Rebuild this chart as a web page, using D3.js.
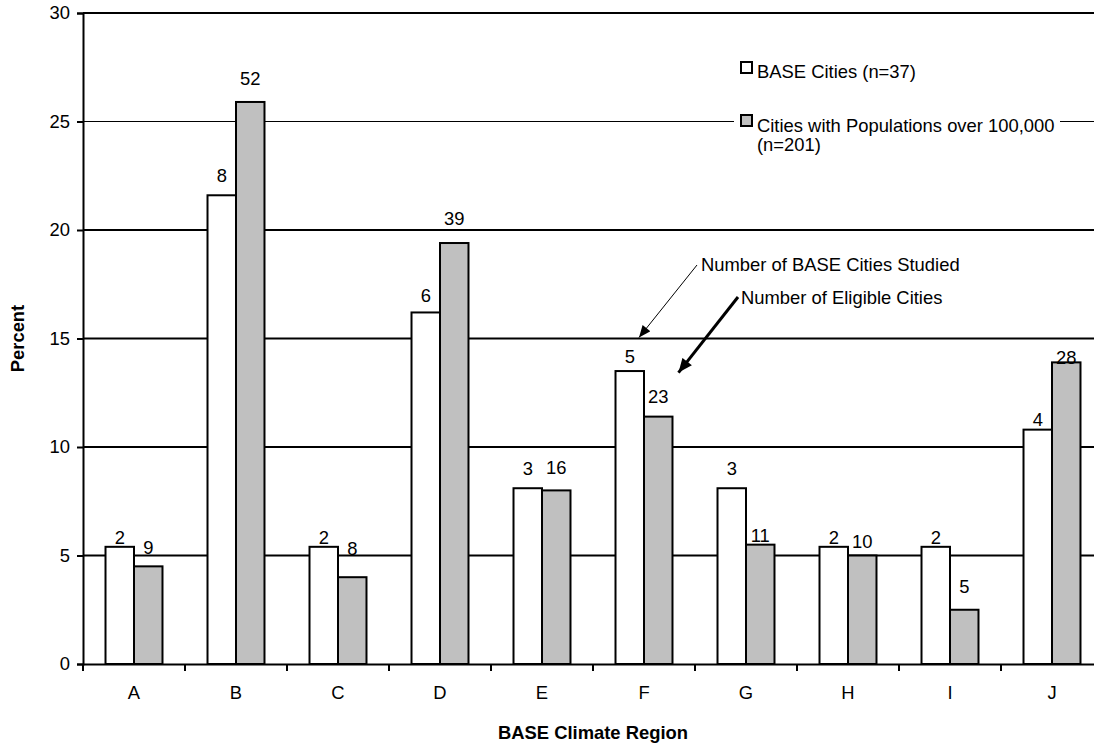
<!DOCTYPE html>
<html>
<head>
<meta charset="utf-8">
<script src="https://cdn.jsdelivr.net/npm/d3@7"></script>
<style>
  body { margin: 0; background: white; }
  svg { display: block; font-family: "Liberation Sans", Arial, sans-serif; }
</style>
</head>
<body>
<script>
const regions = ["A", "B", "C", "D", "E", "F", "G", "H", "I", "J"];
// percent of each group in each climate region
const basePct = [5.4, 21.6, 5.4, 16.2, 8.1, 13.5, 8.1, 5.4, 5.4, 10.8];
const eligiblePct = [4.5, 25.9, 4.0, 19.4, 8.0, 11.4, 5.5, 5.0, 2.5, 13.9];
// city counts printed above the bars
const baseCount = [2, 8, 2, 6, 3, 5, 3, 2, 2, 4];
const eligibleCount = [9, 52, 8, 39, 16, 23, 11, 10, 5, 28];
const yTicks = [0, 5, 10, 15, 20, 25, 30];
const seriesNames = ["BASE Cities (n=37)", "Cities with Populations over 100,000"];

// the count labels were hand-placed in the original, px above the bar top
const labelGapBase = [3, 13, 3, 10, 13, 8, 13, 3, 3, 4];
const labelGapElig = [12, 17, 22, 18, 16, 14, 3, 8, 17, -2];

const width = 1094;
const height = 744;
const marginTop = 13;
const marginLeft = 83;
const plotBottom = 664;
const plotRight = 1103; // plot runs past the picture edge and is clipped
const fontSize = 18.4;

const svg = d3.select("body")
  .append("svg")
  .attr("width", width)
  .attr("height", height);

svg.append("rect").attr("width", "100%").attr("height", "100%").attr("fill", "white");

const defs = svg.append("defs");
defs.append("marker")
  .attr("id", "headThin")
  .attr("viewBox", "0 0 12 10")
  .attr("refX", 12).attr("refY", 5)
  .attr("markerUnits", "userSpaceOnUse")
  .attr("markerWidth", 13).attr("markerHeight", 10)
  .attr("orient", "auto")
  .append("path").attr("d", "M0,0L12,5L0,10Z").attr("fill", "black");
defs.append("marker")
  .attr("id", "headThick")
  .attr("viewBox", "0 0 14 12")
  .attr("refX", 14).attr("refY", 6)
  .attr("markerUnits", "userSpaceOnUse")
  .attr("markerWidth", 15).attr("markerHeight", 12)
  .attr("orient", "auto")
  .append("path").attr("d", "M0,0L14,6L0,12Z").attr("fill", "black");

const x = d3.scaleBand().domain(regions).range([marginLeft, plotRight]);
const xSub = d3.scaleBand().domain(["base", "elig"]).range([0, x.bandwidth()]).paddingOuter(0.79);
const y = d3.scaleLinear().domain([0, 30]).range([plotBottom, marginTop]);

// gridlines (25 is drawn thin in the original)
svg.append("g")
  .selectAll("line")
  .data(yTicks.filter(d => d > 0))
  .join("line")
  .attr("x1", marginLeft).attr("x2", plotRight)
  .attr("y1", d => y(d)).attr("y2", d => y(d))
  .attr("stroke", "black")
  .attr("stroke-width", d => d === 25 ? 1 : 2);

// legend box covers the gridline behind it
svg.append("rect")
  .attr("x", 734).attr("y", 52)
  .attr("width", 326).attr("height", 108)
  .attr("fill", "white");

const rows = regions.map((r, i) => ({
  region: r,
  bars: [
    { key: "base", value: basePct[i], count: baseCount[i], gap: labelGapBase[i], fill: "white" },
    { key: "elig", value: eligiblePct[i], count: eligibleCount[i], gap: labelGapElig[i], fill: "#c0c0c0" },
  ],
}));

const groups = svg.append("g")
  .selectAll("g")
  .data(rows)
  .join("g")
  .attr("transform", d => "translate(" + x(d.region) + ",0)");

groups.selectAll("rect")
  .data(d => d.bars)
  .join("rect")
  .attr("x", d => xSub(d.key))
  .attr("y", d => y(d.value))
  .attr("width", xSub.bandwidth())
  .attr("height", d => y(0) - y(d.value))
  .attr("fill", d => d.fill)
  .attr("stroke", "black")
  .attr("stroke-width", 2);

groups.selectAll("text")
  .data(d => d.bars)
  .join("text")
  .attr("x", d => xSub(d.key) + xSub.bandwidth() / 2)
  .attr("y", d => y(d.value) - d.gap)
  .attr("text-anchor", "middle")
  .attr("font-size", fontSize)
  .text(d => d.count);

// axes
const yAxis = svg.append("g")
  .attr("transform", "translate(" + marginLeft + ",0)")
  .call(d3.axisLeft(y).tickValues(yTicks).tickSize(6).tickPadding(7));
yAxis.select(".domain").attr("stroke-width", 2);
yAxis.selectAll(".tick line").attr("stroke-width", 2);
yAxis.selectAll("text").attr("font-size", fontSize).attr("font-family", "Liberation Sans, Arial, sans-serif");

const xAxis = svg.append("g")
  .attr("transform", "translate(0," + plotBottom + ")")
  .call(d3.axisBottom(x).tickSize(0).tickPadding(22));
xAxis.select(".domain").attr("stroke-width", 2);
xAxis.selectAll("text").attr("font-size", fontSize).attr("font-family", "Liberation Sans, Arial, sans-serif");
xAxis.append("g")
  .selectAll("line")
  .data(regions)
  .join("line")
  .attr("x1", d => x(d)).attr("x2", d => x(d))
  .attr("y1", 0).attr("y2", 7)
  .attr("stroke", "black")
  .attr("stroke-width", 2);

// axis titles
svg.append("text")
  .attr("transform", "rotate(-90)")
  .attr("x", -(marginTop + plotBottom) / 2)
  .attr("y", 24)
  .attr("text-anchor", "middle")
  .attr("font-size", fontSize)
  .attr("font-weight", "bold")
  .text("Percent");

svg.append("text")
  .attr("x", (marginLeft + plotRight) / 2)
  .attr("y", 739)
  .attr("text-anchor", "middle")
  .attr("font-size", fontSize)
  .attr("font-weight", "bold")
  .text("BASE Climate Region");

// legend
const legend = svg.append("g");
legend.append("rect").attr("x", 741).attr("y", 62).attr("width", 11).attr("height", 11)
  .attr("fill", "white").attr("stroke", "black").attr("stroke-width", 2);
legend.append("text").attr("x", 757).attr("y", 78).attr("font-size", fontSize).text(seriesNames[0]);
legend.append("rect").attr("x", 741).attr("y", 115).attr("width", 11).attr("height", 11)
  .attr("fill", "#c0c0c0").attr("stroke", "black").attr("stroke-width", 2);
legend.append("text").attr("x", 757).attr("y", 132).attr("font-size", fontSize).text(seriesNames[1]);
legend.append("text").attr("x", 757).attr("y", 151).attr("font-size", fontSize).text("(n=201)");

// annotations pointing at region F
const fx = x("F");
svg.append("line")
  .attr("x1", 697).attr("y1", 265)
  .attr("x2", fx + xSub("base") + xSub.bandwidth() - 5).attr("y2", y(15) - 1)
  .attr("stroke", "black").attr("stroke-width", 1)
  .attr("marker-end", "url(#headThin)");
svg.append("text").attr("x", 701).attr("y", 271).attr("font-size", fontSize).text("Number of BASE Cities Studied");

svg.append("line")
  .attr("x1", 738).attr("y1", 297)
  .attr("x2", fx + xSub("elig") + xSub.bandwidth() + 6).attr("y2", y(eligiblePct[5]) - 44)
  .attr("stroke", "black").attr("stroke-width", 3)
  .attr("marker-end", "url(#headThick)");
svg.append("text").attr("x", 741).attr("y", 304).attr("font-size", fontSize).text("Number of Eligible Cities");
</script>
</body>
</html>
